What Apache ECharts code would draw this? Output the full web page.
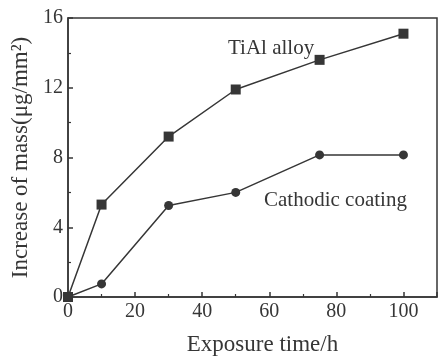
<!DOCTYPE html>
<html>
<head>
<meta charset="utf-8">
<script src="https://cdn.jsdelivr.net/npm/echarts@6/dist/echarts.min.js"></script>
<style>
  html, body { margin: 0; padding: 0; background: #fff; }
  #chart { width: 440px; height: 361px; }
</style>
</head>
<body>
<div id="chart"></div>
<script>
// exposure time (h)
const hours = [0, 10, 30, 50, 75, 100];
// mass gain, µg/mm²
const tialMass = [0, 5.3, 9.2, 11.9, 13.6, 15.1];
const coatingMass = [0, 0.75, 5.25, 6.0, 8.15, 8.15];

const ink = '#363636';
const font = '"Liberation Serif", "DejaVu Serif", serif';

const chart = echarts.init(document.getElementById('chart'));

const pairs = (xs, ys) => xs.map((x, i) => [x, ys[i]]);

chart.setOption({
  animation: false,
  grid: {
    left: 68, right: 3, top: 18, bottom: 60,
    show: true, borderColor: ink, borderWidth: 1.5
  },
  xAxis: {
    type: 'value',
    min: 0, max: 110, interval: 20,
    name: 'Exposure time/h',
    nameLocation: 'middle',
    nameGap: 36,
    nameTextStyle: { fontFamily: font, fontSize: 23, color: ink, padding: [0, 0, 0, 20] },
    axisLine: { lineStyle: { color: ink, width: 1.5 } },
    axisTick: { inside: true, length: 5, lineStyle: { color: ink, width: 1.5 } },
    minorTick: { show: true, splitNumber: 2, length: 3, lineStyle: { color: ink, width: 1.2 } },
    axisLabel: { fontFamily: font, fontSize: 20, color: ink, margin: 5, showMaxLabel: false },
    splitLine: { show: false }
  },
  yAxis: {
    type: 'value',
    min: 0, max: 16, interval: 4,
    name: 'Increase of mass(\u03bcg/mm\u00b2)',
    nameLocation: 'middle',
    nameGap: 25,
    nameTextStyle: { fontFamily: font, fontSize: 23, color: ink },
    axisLine: { lineStyle: { color: ink, width: 1.5 } },
    axisTick: { inside: true, length: 5, lineStyle: { color: ink, width: 1.5 } },
    minorTick: { show: true, splitNumber: 2, length: 3, lineStyle: { color: ink, width: 1.2 } },
    axisLabel: { fontFamily: font, fontSize: 20, color: ink, margin: 5 },
    splitLine: { show: false }
  },
  series: [
    {
      name: 'TiAl alloy',
      type: 'line',
      data: pairs(hours, tialMass),
      symbol: 'rect',
      symbolSize: 10,
      itemStyle: { color: ink },
      lineStyle: { color: ink, width: 1.5 }
    },
    {
      name: 'Cathodic coating',
      type: 'line',
      data: pairs(hours, coatingMass),
      symbol: 'circle',
      symbolSize: 9,
      itemStyle: { color: ink },
      lineStyle: { color: ink, width: 1.5 }
    }
  ],
  graphic: [
    { type: 'text', left: 228, top: 38, style: { text: 'TiAl alloy', font: '21px ' + font, fill: ink } },
    { type: 'text', left: 264, top: 190, style: { text: 'Cathodic coating', font: '21px ' + font, fill: ink } }
  ]
});
</script>
</body>
</html>
